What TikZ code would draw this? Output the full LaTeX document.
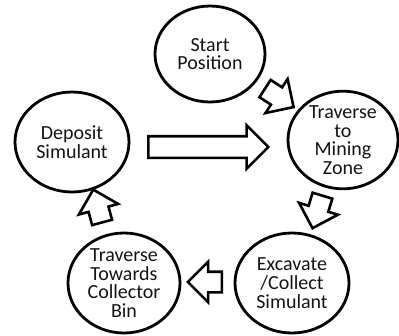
\documentclass[tikz,border=0pt]{standalone}
\usepackage{fontspec}
\setmainfont{Carlito}
\usetikzlibrary{shapes.geometric,shapes.arrows}
\definecolor{stagetext}{RGB}{20,20,20}
\newcommand{\stagefont}{\fontsize{20}{18.7}\selectfont}
\tikzset{
  stage/.style={ellipse,draw=black,line width=2.8pt,inner sep=0pt,align=center,
    font=\stagefont,text=stagetext},
  flowarrow/.style={single arrow,draw=black,line width=2.6pt,fill=white,inner xsep=0pt,inner ysep=9pt,
    single arrow head extend=10pt,minimum height=34pt}
}

\begin{document}
\begin{tikzpicture}[x=1pt,y=-1pt]
		\fill[white] (0,0) rectangle (399,335);
		\useasboundingbox (0,0) rectangle (399,335);
		% stages of the cycle
		\node[stage,minimum width=110pt,minimum height=96pt] (start) at (210,54) {Start\\Position};
		\node[stage,minimum width=110pt,minimum height=96pt] (mine) at (343,140) {Traverse\\to\\Mining\\Zone};
		\node[stage,minimum width=114pt,minimum height=100pt] (dig) at (292,283) {Excavate\\/Collect\\Simulant};
		\node[stage,minimum width=112pt,minimum height=100pt] (haul) at (124,283) {Traverse\\Towards\\Collector\\Bin};
		\node[stage,minimum width=114pt,minimum height=100pt] (deposit) at (72,142) {Deposit\\Simulant};
		% block arrows between them
		\node[flowarrow,rotate=-33] (a1) at (275,95) {};
		\node[flowarrow,rotate=-107] (a3) at (319,207) {};
		\node[flowarrow,rotate=180] (a4) at (210,282) {};
		\node[flowarrow,rotate=105] (a5) at (99,211) {};
		\node[flowarrow,minimum height=120pt,inner ysep=9.5pt,single arrow head extend=11pt] (a2) at (203,147) {};
\end{tikzpicture}
\end{document}
